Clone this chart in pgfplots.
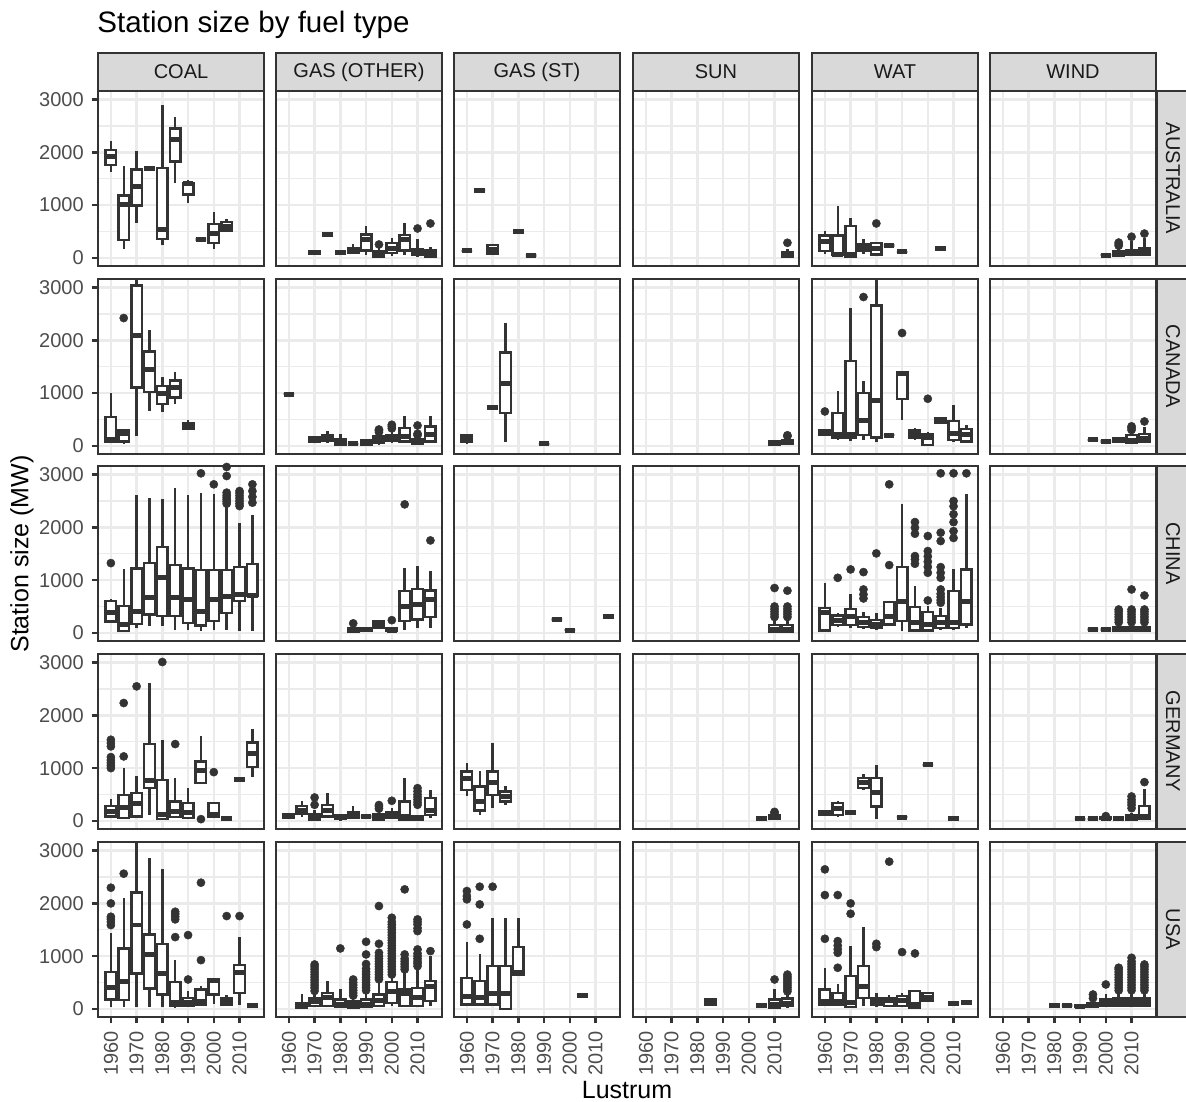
\documentclass[border=0pt]{standalone}
\usepackage{fontspec}
\setmainfont{Liberation Sans}
\usepackage{pgfplots}
\pgfplotsset{compat=1.18}
\usepgfplotslibrary{statistics}
\definecolor{grey20}{HTML}{333333}
\definecolor{grey30}{HTML}{4D4D4D}
\definecolor{grey92}{HTML}{EBEBEB}
\definecolor{grey85}{HTML}{D9D9D9}
\definecolor{grey10}{HTML}{1A1A1A}
\pgfplotsset{
 panel/.style={scale only axis, width=73.04pt, height=77pt, anchor=north west,
   xmin=1955, xmax=2019.5, ymin=-155, ymax=3165,
   xtick={1960,1970,1980,1990,2000,2010}, ytick={0,1000,2000,3000}, minor ytick={500,1500,2500},
   grid=both, major grid style={draw=grey92, line width=1.07pt}, minor grid style={draw=grey92, line width=0.53pt},
   axis line style={draw=grey20, line width=1.07pt},
   tick align=outside, major tick length=2.75pt, minor tick length=0pt,
   tick pos=left,
   xticklabels={}, yticklabels={},
   xtick style={draw=none}, ytick style={draw=none},
   ticklabel style={font=\fontsize{8.8}{10}\selectfont, text=grey30},
 },
 leftcol/.style={yticklabels={0,1000,2000,3000}, ytick style={draw=grey20, line width=1.07pt}},
 botrow/.style={xticklabels={1960,1970,1980,1990,2000,2010}, xtick style={draw=grey20, line width=1.07pt}, xticklabel style={rotate=90, anchor=east}},
 bx/.style={draw=grey20, line width=1.07pt, mark=*, mark size=1.8pt, mark options={fill=grey20, draw=grey20, line width=0.2pt},
   boxplot/draw direction=y,
   boxplot/every box/.style={fill=white, draw=grey20}, boxplot/every median/.style={line width=2.13pt},
   boxplot/box extend=4.1, boxplot/whisker extend=0},
}
\newcommand{\B}[7]{\addplot[bx, boxplot prepared={draw position=#1, lower whisker=#2, lower quartile=#3, median=#4, upper quartile=#5, upper whisker=#6}] coordinates {#7};}
\newcommand{\F}[2]{\B{#1}{#2}{#2}{#2}{#2}{#2}{}}
\begin{document}
\begin{tikzpicture}
\useasboundingbox (0,0) rectangle (521.84pt,484.44pt);
% ===== AUSTRALIA =====
\begin{axis}[panel, leftcol, at={(43.12pt,444.4pt)}]
\B{1960}{1633}{1760}{1918}{2045}{2216}{}
\B{1965}{171}{335}{1013}{1184}{1741}{}
\B{1970}{665}{994}{1348}{1677}{2026}{}
\F{1975}{1700}
\B{1980}{234}{361}{538}{1703}{2899}{}
\B{1985}{1418}{1829}{2247}{2456}{2678}{}
\B{1990}{1044}{1203}{1405}{1424}{1469}{}
\F{1995}{348}
\B{2000}{171}{279}{456}{646}{874}{}
\B{2005}{487}{519}{601}{684}{741}{}
\end{axis}
\begin{axis}[panel, at={(121.44pt,444.4pt)}]
\B{1970}{60}{70}{100}{130}{150}{}
\F{1975}{443}
\F{1980}{108}
\B{1985}{89}{89}{139}{184}{253}{}
\B{1990}{63}{139}{348}{443}{601}{}
\B{1995}{19}{19}{82}{127}{190}{(0,253)}
\B{2000}{44}{89}{177}{279}{367}{}
\B{2005}{63}{139}{348}{437}{658}{}
\B{2010}{25}{51}{114}{171}{348}{(0,557)}
\B{2015}{25}{25}{108}{152}{203}{(0,652)}
\end{axis}
\begin{axis}[panel, at={(199.76pt,444.4pt)}]
\F{1960}{133}
\F{1965}{1285}
\B{1970}{70}{82}{158}{247}{260}{}
\F{1980}{506}
\F{1985}{44}
\end{axis}
\begin{axis}[panel, at={(278.52pt,444.4pt)}]
\B{2015}{19}{25}{70}{114}{170}{(0,285)}
\end{axis}
\begin{axis}[panel, at={(357.28pt,444.4pt)}]
\B{1960}{82}{127}{304}{424}{506}{}
\B{1965}{63}{63}{70}{424}{981}{}
\B{1970}{19}{19}{63}{601}{760}{}
\B{1975}{82}{127}{203}{253}{348}{}
\B{1980}{63}{63}{171}{285}{290}{(0,652)}
\F{1985}{230}
\F{1990}{114}
\F{2005}{171}
\end{axis}
\begin{axis}[panel, at={(435.6pt,444.4pt)}]
\F{2000}{50}
\B{2005}{19}{30}{60}{120}{200}{(0,230) (0,260) (0,290)}
\B{2010}{30}{63}{90}{150}{310}{(0,400)}
\B{2015}{40}{63}{120}{190}{370}{(0,460)}
\end{axis}
% ===== CANADA =====
\begin{axis}[panel, leftcol, at={(43.12pt,361.68pt)}]
\B{1960}{82}{82}{114}{551}{1000}{}
\B{1965}{32}{82}{241}{304}{304}{(0,2424)}
\B{1970}{177}{1108}{2095}{3038}{3400}{}
\B{1975}{665}{1019}{1443}{1791}{2203}{}
\B{1980}{639}{791}{987}{1139}{1304}{}
\B{1985}{791}{918}{1108}{1241}{1399}{}
\B{1990}{320}{323}{386}{430}{487}{}
\end{axis}
\begin{axis}[panel, at={(121.44pt,361.68pt)}]
\F{1960}{981}
\B{1970}{70}{82}{110}{158}{165}{}
\B{1975}{51}{101}{158}{209}{272}{}
\B{1980}{19}{19}{63}{120}{222}{}
\F{1985}{38}
\B{1990}{19}{19}{63}{108}{130}{}
\B{1995}{19}{50}{100}{180}{230}{(0,260) (0,290) (0,310)}
\B{2000}{51}{101}{158}{196}{260}{(0,330) (0,370) (0,400)}
\B{2005}{51}{82}{177}{335}{557}{}
\B{2010}{19}{30}{70}{120}{180}{(0,200) (0,230) (0,386)}
\B{2015}{51}{82}{209}{367}{557}{}
\end{axis}
\begin{axis}[panel, at={(199.76pt,361.68pt)}]
\B{1960}{32}{70}{120}{196}{222}{}
\F{1970}{728}
\B{1975}{82}{620}{1190}{1772}{2330}{}
\F{1990}{38}
\end{axis}
\begin{axis}[panel, at={(278.52pt,361.68pt)}]
\B{2010}{19}{25}{50}{95}{95}{}
\B{2015}{30}{40}{60}{100}{150}{(0,180) (0,200)}
\end{axis}
\begin{axis}[panel, at={(357.28pt,361.68pt)}]
\B{1960}{200}{209}{250}{291}{300}{(0,652)}
\B{1965}{114}{146}{222}{620}{1032}{}
\B{1970}{101}{146}{222}{1614}{2614}{}
\B{1975}{114}{209}{481}{1000}{1222}{(0,2823)}
\B{1980}{82}{158}{855}{2665}{3300}{}
\F{1985}{203}
\B{1990}{487}{886}{1367}{1393}{1393}{(0,2140)}
\B{1995}{114}{146}{222}{291}{335}{}
\B{2000}{19}{19}{158}{222}{260}{(0,893)}
\B{2005}{430}{430}{475}{525}{525}{}
\B{2010}{82}{114}{241}{475}{779}{}
\B{2015}{82}{82}{222}{316}{399}{}
\end{axis}
\begin{axis}[panel, at={(435.6pt,361.68pt)}]
\F{1995}{114}
\F{2000}{82}
\B{2005}{70}{80}{100}{140}{170}{}
\B{2010}{30}{50}{100}{200}{260}{(0,300) (0,340) (0,370)}
\B{2015}{80}{82}{146}{222}{350}{(0,462)}
\end{axis}
% ===== CHINA =====
\begin{axis}[panel, leftcol, at={(43.12pt,279.4pt)}]
\B{1960}{196}{215}{380}{601}{650}{(0,1323)}
\B{1965}{38}{38}{158}{506}{1203}{}
\B{1970}{95}{165}{399}{1222}{2608}{}
\B{1975}{127}{348}{665}{1323}{2564}{}
\B{1980}{127}{316}{1057}{1627}{2532}{}
\B{1985}{63}{316}{665}{1285}{2754}{}
\B{1990}{63}{190}{633}{1222}{2608}{(0,3170)}
\B{1995}{32}{139}{411}{1190}{2659}{(0,3026)}
\B{2000}{63}{222}{633}{1190}{2640}{(0,2817)}
\B{2005}{63}{380}{696}{1190}{2405}{(0,2450) (0,2490) (0,2530) (0,2570) (0,2610) (0,2660) (0,2975) (0,3146)}
\B{2010}{32}{601}{728}{1247}{2089}{(0,2405) (0,2450) (0,2500) (0,2550) (0,2600) (0,2650) (0,2690) (0,3170)}
\B{2015}{32}{696}{715}{1310}{2228}{(0,2469) (0,2580) (0,2690) (0,2817)}
\end{axis}
\begin{axis}[panel, at={(121.44pt,279.4pt)}]
\B{1985}{19}{19}{50}{95}{110}{(0,180)}
\B{1990}{45}{45}{60}{95}{95}{}
\B{1995}{95}{95}{158}{222}{230}{}
\B{2000}{30}{30}{50}{95}{110}{(0,240)}
\B{2005}{63}{222}{494}{791}{1234}{(0,2437)}
\B{2010}{95}{253}{538}{829}{1266}{}
\B{2015}{95}{298}{633}{804}{1171}{(0,1753)}
\end{axis}
\begin{axis}[panel, at={(199.76pt,279.4pt)}]
\F{1995}{250}
\F{2000}{50}
\F{2015}{310}
\end{axis}
\begin{axis}[panel, at={(278.52pt,279.4pt)}]
\B{2010}{19}{25}{60}{150}{250}{(0,300) (0,350) (0,400) (0,450) (0,500) (0,850)}
\B{2015}{19}{25}{60}{150}{250}{(0,300) (0,350) (0,400) (0,450) (0,500) (0,800)}
\end{axis}
\begin{axis}[panel, at={(357.28pt,279.4pt)}]
\B{1960}{44}{44}{380}{475}{950}{}
\B{1965}{120}{146}{234}{329}{380}{(0,1044)}
\B{1970}{101}{146}{316}{456}{741}{(0,1203)}
\B{1975}{76}{114}{190}{298}{400}{(0,652) (0,728) (0,823) (0,1152)}
\B{1980}{63}{95}{158}{241}{380}{(0,1507)}
\B{1985}{146}{158}{316}{582}{601}{(0,1285) (0,2817)}
\B{1990}{32}{222}{601}{1253}{2437}{}
\B{1995}{44}{44}{190}{487}{886}{(0,1310) (0,1393) (0,1456) (0,1880) (0,1994) (0,2101)}
\B{2000}{44}{44}{158}{392}{500}{(0,614) (0,1139) (0,1250) (0,1350) (0,1450) (0,1551) (0,1836)}
\B{2005}{63}{95}{190}{316}{475}{(0,570) (0,620) (0,680) (0,740) (0,823) (0,1044) (0,1139) (0,1247) (0,1741) (0,1900) (0,3026)}
\B{2010}{63}{95}{190}{791}{1203}{(0,1800) (0,1930) (0,2100) (0,2250) (0,2400) (0,2500) (0,3026)}
\B{2015}{95}{158}{601}{1203}{2627}{(0,3026)}
\end{axis}
\begin{axis}[panel, at={(435.6pt,279.4pt)}]
\F{1995}{63}
\F{2000}{63}
\B{2005}{19}{40}{70}{110}{160}{(0,200) (0,250) (0,300) (0,350) (0,400) (0,443)}
\B{2010}{19}{40}{70}{110}{160}{(0,200) (0,250) (0,300) (0,350) (0,400) (0,443) (0,823)}
\B{2015}{19}{40}{70}{110}{160}{(0,200) (0,250) (0,300) (0,350) (0,400) (0,443) (0,709)}
\end{axis}
% ===== GERMANY =====
\begin{axis}[panel, leftcol, at={(43.12pt,196.68pt)}]
\B{1960}{51}{82}{177}{285}{411}{(0,1000) (0,1050) (0,1100) (0,1150) (0,1209) (0,1412) (0,1475) (0,1538)}
\B{1965}{51}{51}{260}{494}{1000}{(0,1222) (0,2235)}
\B{1970}{51}{82}{335}{525}{842}{(0,2551)}
\B{1975}{114}{620}{766}{1456}{2614}{}
\B{1980}{32}{32}{127}{779}{1538}{(0,3013)}
\B{1985}{51}{70}{177}{367}{810}{(0,1456)}
\B{1990}{51}{51}{165}{335}{620}{}
\B{1995}{715}{715}{949}{1127}{1614}{(0,32)}
\B{2000}{70}{70}{114}{335}{335}{(0,924)}
\F{2005}{38}
\F{2010}{791}
\B{2015}{829}{1019}{1285}{1487}{1741}{}
\end{axis}
\begin{axis}[panel, at={(121.44pt,196.68pt)}]
\B{1960}{50}{51}{90}{133}{140}{}
\B{1965}{82}{133}{196}{285}{367}{}
\B{1970}{19}{19}{60}{133}{200}{(0,304) (0,443)}
\B{1975}{51}{82}{196}{304}{525}{}
\B{1980}{0}{30}{70}{110}{120}{}
\B{1985}{63}{63}{114}{158}{285}{}
\F{1990}{82}
\B{1995}{19}{19}{60}{120}{180}{(0,230) (0,270) (0,300)}
\B{2000}{51}{51}{127}{158}{240}{(0,380)}
\B{2005}{19}{19}{82}{367}{810}{}
\B{2010}{19}{19}{40}{82}{100}{(0,304) (0,350) (0,400) (0,450) (0,500) (0,560) (0,620)}
\B{2015}{51}{114}{196}{430}{589}{}
\end{axis}
\begin{axis}[panel, at={(199.76pt,196.68pt)}]
\B{1960}{462}{589}{810}{937}{1095}{}
\B{1965}{114}{196}{367}{652}{937}{}
\B{1970}{241}{494}{728}{937}{1475}{}
\B{1975}{304}{367}{462}{557}{652}{}
\end{axis}
\begin{axis}[panel, at={(278.52pt,196.68pt)}]
\F{2005}{51}
\B{2010}{19}{30}{60}{110}{130}{(0,150) (0,170)}
\end{axis}
\begin{axis}[panel, at={(357.28pt,196.68pt)}]
\B{1960}{100}{114}{150}{177}{190}{}
\B{1965}{82}{114}{241}{335}{367}{}
\F{1970}{158}
\B{1975}{576}{620}{728}{810}{893}{}
\B{1980}{32}{272}{538}{810}{1063}{}
\F{1990}{70}
\F{2000}{1063}
\F{2010}{38}
\end{axis}
\begin{axis}[panel, at={(435.6pt,196.68pt)}]
\F{1990}{38}
\F{1995}{38}
\B{2000}{30}{40}{50}{60}{70}{(0,90)}
\F{2005}{38}
\B{2010}{19}{25}{50}{100}{150}{(0,240) (0,300) (0,350) (0,400) (0,462)}
\B{2015}{32}{32}{82}{285}{600}{(0,734)}
\end{axis}
% ===== USA =====
\begin{axis}[panel, leftcol, botrow, at={(43.12pt,113.96pt)}]
\B{1960}{38}{177}{411}{703}{1431}{(0,1589) (0,1650) (0,1700) (0,1747) (0,2000) (0,2298)}
\B{1965}{38}{165}{513}{1146}{2108}{(0,2564)}
\B{1970}{32}{671}{1589}{2203}{3300}{}
\B{1975}{38}{386}{1032}{1412}{2855}{}
\B{1980}{38}{272}{671}{1234}{2646}{}
\B{1985}{19}{51}{114}{513}{924}{(0,1361) (0,1697) (0,1750) (0,1800) (0,1842)}
\B{1990}{51}{51}{114}{209}{335}{(0,557) (0,1399)}
\B{1995}{51}{82}{133}{367}{437}{(0,924) (0,2393)}
\B{2000}{101}{272}{538}{557}{589}{}
\B{2005}{82}{82}{146}{209}{260}{(0,1760)}
\B{2010}{82}{304}{696}{829}{1367}{(0,1760)}
\F{2015}{63}
\end{axis}
\begin{axis}[panel, botrow, at={(121.44pt,113.96pt)}]
\B{1965}{19}{19}{51}{114}{272}{}
\B{1970}{51}{51}{146}{209}{300}{(0,340) (0,400) (0,450) (0,500) (0,550) (0,600) (0,650) (0,700) (0,750) (0,800) (0,842)}
\B{1975}{51}{51}{222}{304}{525}{}
\B{1980}{32}{32}{82}{177}{367}{(0,1146)}
\B{1985}{19}{19}{82}{146}{230}{(0,250) (0,300) (0,350) (0,400) (0,450) (0,500) (0,557)}
\B{1990}{32}{32}{82}{177}{310}{(0,350) (0,400) (0,450) (0,500) (0,550) (0,600) (0,650) (0,700) (0,760) (0,850) (0,1032) (0,1272)}
\B{1995}{51}{51}{158}{272}{525}{(0,560) (0,600) (0,650) (0,700) (0,750) (0,800) (0,850) (0,900) (0,950) (0,1000) (0,1063) (0,1234) (0,1950)}
\B{2000}{51}{114}{335}{513}{600}{(0,650) (0,700) (0,750) (0,800) (0,850) (0,900) (0,950) (0,1000) (0,1050) (0,1100) (0,1150) (0,1200) (0,1250) (0,1300) (0,1350) (0,1400) (0,1450) (0,1500) (0,1550) (0,1600) (0,1650) (0,1728)}
\B{2005}{32}{51}{285}{367}{700}{(0,747) (0,800) (0,850) (0,900) (0,950) (0,1032) (0,2266)}
\B{2010}{32}{51}{209}{399}{750}{(0,810) (0,860) (0,900) (0,950) (0,1000) (0,1050) (0,1127) (0,1475) (0,1530) (0,1600) (0,1650) (0,1697)}
\B{2015}{51}{146}{418}{525}{1000}{(0,1095)}
\end{axis}
\begin{axis}[panel, botrow, at={(199.76pt,113.96pt)}]
\B{1960}{51}{82}{228}{589}{1272}{(0,1601) (0,2077) (0,2140) (0,2235)}
\B{1965}{51}{82}{222}{525}{1032}{(0,1329) (0,1981) (0,2317)}
\B{1970}{51}{82}{291}{810}{1728}{(0,2317)}
\B{1975}{0}{0}{291}{810}{1728}{}
\B{1980}{652}{652}{684}{1171}{1728}{}
\F{2005}{253}
\end{axis}
\begin{axis}[panel, botrow, at={(278.52pt,113.96pt)}]
\B{1985}{51}{82}{146}{177}{177}{}
\F{2005}{70}
\B{2010}{19}{19}{82}{177}{367}{(0,557)}
\B{2015}{19}{50}{100}{200}{300}{(0,330) (0,370) (0,410) (0,450) (0,490) (0,530) (0,570) (0,610) (0,650)}
\end{axis}
\begin{axis}[panel, botrow, at={(357.28pt,113.96pt)}]
\B{1960}{51}{82}{146}{367}{779}{(0,1329) (0,2158) (0,2646)}
\B{1965}{51}{82}{146}{304}{462}{(0,779) (0,1063) (0,1130) (0,1200) (0,1285) (0,2158)}
\B{1970}{32}{32}{114}{620}{1190}{(0,1804) (0,2000)}
\B{1975}{51}{209}{418}{810}{1551}{}
\B{1980}{32}{82}{146}{209}{300}{(0,1171) (0,1234)}
\B{1985}{51}{51}{158}{209}{260}{(0,2792)}
\B{1990}{51}{51}{158}{241}{300}{(0,1076)}
\B{1995}{19}{19}{82}{335}{335}{(0,1051)}
\B{2000}{146}{146}{209}{304}{304}{}
\F{2010}{101}
\F{2015}{114}
\end{axis}
\begin{axis}[panel, botrow, at={(435.6pt,113.96pt)}]
\F{1980}{63}
\F{1985}{63}
\B{1990}{30}{40}{50}{60}{70}{}
\B{1995}{19}{30}{60}{110}{150}{(0,200) (0,272)}
\B{2000}{51}{51}{114}{177}{272}{(0,462)}
\B{2005}{32}{51}{114}{200}{300}{(0,350) (0,400) (0,450) (0,500) (0,550) (0,600) (0,650) (0,700) (0,750) (0,780)}
\B{2010}{32}{51}{114}{200}{300}{(0,350) (0,400) (0,450) (0,500) (0,550) (0,600) (0,650) (0,700) (0,750) (0,800) (0,850) (0,900) (0,968)}
\B{2015}{32}{51}{114}{200}{300}{(0,350) (0,400) (0,450) (0,500) (0,550) (0,600) (0,650) (0,700) (0,750) (0,800) (0,842)}
\end{axis}
% ===== decorations =====
\begin{scope}[shift={(0pt,484.44pt)}, x=0.44pt, y=-0.44pt]
\foreach \c/\lab in {98/{COAL}, 276/{GAS (OTHER)}, 454/{GAS (ST)}, 633/{SUN}, 812/{WAT}, 990/{WIND}} {
  \draw[fill=grey85, draw=grey20, line width=1.07pt] (\c,53) rectangle (\c+166,91);
  \node[text=grey10, font=\fontsize{8.8}{10}\selectfont] at (\c+83,72) {\lab};
}
\foreach \r/\lab in {91/{AUSTRALIA}, 279/{CANADA}, 466/{CHINA}, 654/{GERMANY}, 842/{USA}} {
  \draw[fill=grey85, draw=grey20, line width=1.07pt] (1157,\r) rectangle (1196,\r+175);
  \node[rotate=-90, text=grey10, font=\fontsize{8.8}{10}\selectfont] at (1173,\r+87.5) {\lab};
}
\node[anchor=base west, inner sep=0pt, font=\fontsize{13}{15}\selectfont, text=black] at (97,33) {Station size by fuel type};
\node[rotate=90, font=\fontsize{11}{13}\selectfont, text=black] at (22,554) {Station size (MW)};
\node[font=\fontsize{11}{13}\selectfont, text=black] at (627,1090) {Lustrum};
\end{scope}
\end{tikzpicture}
\end{document}
